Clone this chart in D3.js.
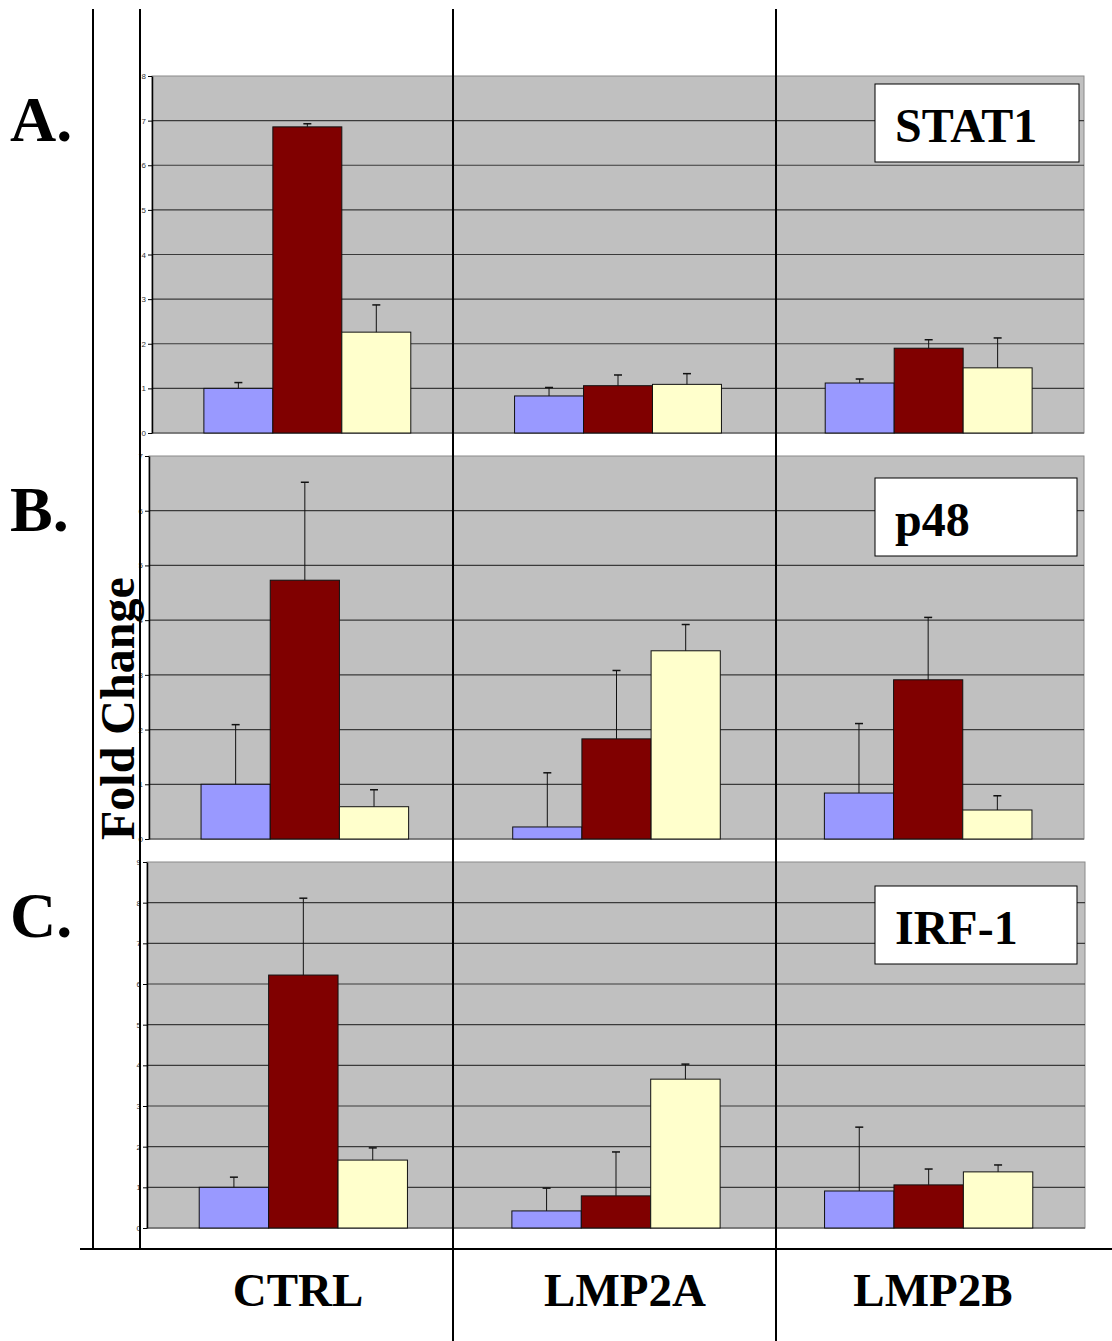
<!DOCTYPE html>
<html>
<head>
<meta charset="utf-8">
<script src="https://cdn.jsdelivr.net/npm/d3@7"></script>
<style>
  body { margin: 0; background: #fff; }
  svg { display: block; }
  .tick text { font-family: Arial, "Liberation Sans", sans-serif; font-size: 8px; fill: #333; }
</style>
</head>
<body>
<div id="chart"></div>
<script>
// categories and series
const groups = ["CTRL", "LMP2A", "LMP2B"];
const series = ["blue", "red", "yellow"];
const seriesColors = ["#9999ff", "#800000", "#ffffcc"];

// fold change values, per group: [blue, red, yellow]
const stat1Values = [[1.0, 6.86, 2.26], [0.83, 1.06, 1.09], [1.12, 1.90, 1.46]];
const stat1Errors = [[0.13, 0.07, 0.61], [0.19, 0.24, 0.24], [0.09, 0.19, 0.67]];
const p48Values = [[1.0, 4.73, 0.59], [0.22, 1.83, 3.44], [0.84, 2.91, 0.53]];
const p48Errors = [[1.09, 1.79, 0.31], [0.99, 1.25, 0.48], [1.27, 1.14, 0.26]];
const irf1Values = [[1.0, 6.22, 1.67], [0.42, 0.79, 3.66], [0.91, 1.06, 1.38]];
const irf1Errors = [[0.25, 1.89, 0.30], [0.56, 1.08, 0.37], [1.57, 0.39, 0.17]];

const stat1Ticks = d3.range(0, 9);
const p48Ticks = d3.range(0, 8);
const irf1Ticks = d3.range(0, 10);

const W = 1112, H = 1341;
const svg = d3.select("#chart").append("svg")
    .attr("width", W)
    .attr("height", H);

const panels = [
    { letter: "A.", gene: "STAT1", values: stat1Values, errors: stat1Errors, ticks: stat1Ticks,
      left: 152, right: 1084, top: 76, bottom: 433, letterY: 141, boxY: 84, boxW: 204 },
    { letter: "B.", gene: "p48", values: p48Values, errors: p48Errors, ticks: p48Ticks,
      left: 149, right: 1084, top: 456, bottom: 839, letterY: 531, boxY: 478, boxW: 202 },
    { letter: "C.", gene: "IRF-1", values: irf1Values, errors: irf1Errors, ticks: irf1Ticks,
      left: 147, right: 1085, top: 862, bottom: 1228, letterY: 937, boxY: 886, boxW: 202 }
];

panels.forEach(p => {
    const g = svg.append("g");
    const x = d3.scaleBand().domain(groups).range([p.left, p.right]).paddingInner(0).paddingOuter(0);
    const bw = x.bandwidth() * 0.666;
    const xs = d3.scaleBand().domain(series).range([0, bw]);
    const y = d3.scaleLinear()
        .domain([0, d3.max(p.ticks)])
        .range([p.bottom, p.top]);

    // plot area
    g.append("rect")
        .attr("x", p.left).attr("y", p.top)
        .attr("width", p.right - p.left).attr("height", p.bottom - p.top)
        .attr("fill", "#c0c0c0")
        .attr("stroke", "#8a8a8a").attr("stroke-width", 1);

    // gridlines
    g.selectAll(".grid")
        .data(p.ticks.filter(t => t > 0 && t < d3.max(p.ticks)))
        .enter().append("line")
        .attr("x1", p.left).attr("x2", p.right)
        .attr("y1", d => y(d)).attr("y2", d => y(d))
        .attr("stroke", "#3a3a3a").attr("stroke-width", 1.2);

    g.append("line")
        .attr("x1", p.left).attr("x2", p.right)
        .attr("y1", y(0)).attr("y2", y(0))
        .attr("stroke", "#6a6a6a").attr("stroke-width", 1.5);

    // bars
    groups.forEach((grp, gi) => {
        const x0 = x(grp) + (x.bandwidth() - bw) / 2;
        series.forEach((s, si) => {
            const v = p.values[gi][si];
            const e = p.errors[gi][si];
            const bx = x0 + xs(s);
            g.append("rect")
                .attr("x", bx).attr("y", y(v))
                .attr("width", xs.bandwidth()).attr("height", y(0) - y(v))
                .attr("fill", seriesColors[si])
                .attr("stroke", "#111").attr("stroke-width", 1);
            const cx = bx + xs.bandwidth() / 2;
            g.append("line")
                .attr("x1", cx).attr("x2", cx)
                .attr("y1", y(v)).attr("y2", y(v + e))
                .attr("stroke", "#111").attr("stroke-width", 1);
            g.append("line")
                .attr("x1", cx - 4).attr("x2", cx + 4)
                .attr("y1", y(v + e)).attr("y2", y(v + e))
                .attr("stroke", "#111").attr("stroke-width", 1.5);
        });
    });

    // y axis
    const axis = g.append("g")
        .attr("transform", "translate(" + p.left + ",0)")
        .call(d3.axisLeft(y).tickValues(p.ticks).tickFormat(d3.format("d"))
            .tickSize(4).tickSizeOuter(0).tickPadding(2));
    axis.select(".domain").attr("stroke", "#000").attr("stroke-width", 1.5);
    axis.selectAll(".tick line").attr("stroke", "#000");

    // gene label box
    g.append("rect")
        .attr("x", 875).attr("y", p.boxY)
        .attr("width", p.boxW).attr("height", 78)
        .attr("fill", "#fff").attr("stroke", "#000").attr("stroke-width", 1);
    g.append("text")
        .attr("x", 895).attr("y", p.boxY + 58)
        .attr("font-family", "'Liberation Serif', 'Times New Roman', serif")
        .attr("font-weight", "bold").attr("font-size", 48)
        .text(p.gene);

    // panel letter
    g.append("text")
        .attr("x", 10).attr("y", p.letterY)
        .attr("font-family", "'Liberation Serif', 'Times New Roman', serif")
        .attr("font-weight", "bold").attr("font-size", 64)
        .text(p.letter);
});

// frame lines
const frame = svg.append("g").attr("stroke", "#000").attr("stroke-width", 2);
frame.append("line").attr("x1", 93).attr("x2", 93).attr("y1", 9).attr("y2", 1250);
frame.append("line").attr("x1", 140).attr("x2", 140).attr("y1", 9).attr("y2", 1250);
frame.append("line").attr("x1", 453).attr("x2", 453).attr("y1", 9).attr("y2", H);
frame.append("line").attr("x1", 776).attr("x2", 776).attr("y1", 9).attr("y2", H);
frame.append("line").attr("x1", 80).attr("x2", W).attr("y1", 1249).attr("y2", 1249);

// y title
svg.append("text")
    .attr("transform", "translate(134,840) rotate(-90)")
    .attr("font-family", "'Liberation Serif', 'Times New Roman', serif")
    .attr("font-weight", "bold").attr("font-size", 48)
    .text("Fold Change");

// group labels
const labelX = [298, 625, 933];
svg.selectAll(".glabel")
    .data(groups)
    .enter().append("text")
    .attr("x", (d, i) => labelX[i]).attr("y", 1306)
    .attr("text-anchor", "middle")
    .attr("font-family", "'Liberation Serif', 'Times New Roman', serif")
    .attr("font-weight", "bold").attr("font-size", 47)
    .text(d => d);
</script>
</body>
</html>
